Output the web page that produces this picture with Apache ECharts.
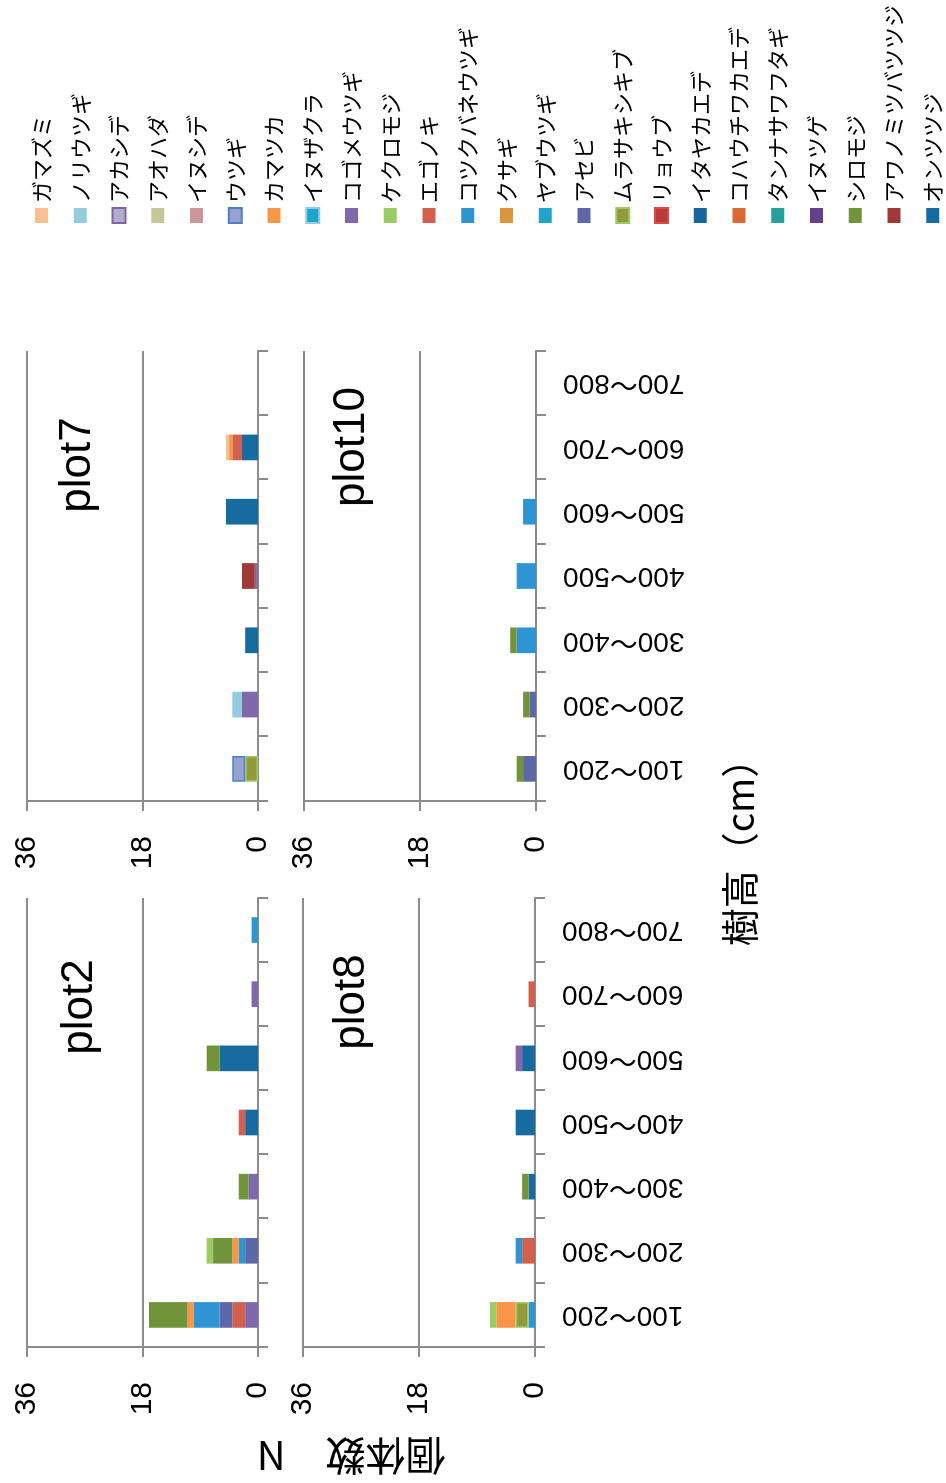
<!DOCTYPE html>
<html>
<head>
<meta charset="utf-8">
<script src="https://cdn.jsdelivr.net/npm/echarts@6/dist/echarts.min.js"></script>
<style>
html,body{margin:0;padding:0;background:#fff;overflow:hidden;width:946px;height:1483px;}
#c{position:absolute;left:0;top:0;width:1483px;height:946px;transform-origin:0 0;transform:translate(0,1483px) rotate(-90deg);}
</style>
</head>
<body>
<div id="c"></div>
<script>
// ---- data ----
const categories = ['100～200','200～300','300～400','400～500','500～600','600～700','700～800'];
const plotNames = ['plot2','plot7','plot8','plot10'];
const valueMin = 0, valueMax = 36, valueStep = 18;

const legendNames = ['ガマズミ','ノリウツギ','アカシデ','アオハダ','イヌシデ','ウツギ','カマツカ','イヌザクラ','コゴメウツギ','ケクロモジ','エゴノキ','コツクバネウツギ','クサギ','ヤブウツギ','アセビ','ムラサキシキブ','リョウブ','イタヤカエデ','コハウチワカエデ','タンナサワフタギ','イヌツゲ','シロモジ','アワノミツバツツジ','オンツツジ'];
const legendColors = ['#FAC090','#93CDDD','#B1AECB','#C4C896','#C9969B','#95A0D3','#F79646','#1AA5CF','#8068AC','#9BCB63','#D2604C','#2E94D2','#D9963C','#22A4CA','#5D68A6','#929B3C','#B83B3B','#17659F','#D96A35','#25A09B','#65408A','#71943B','#A03838','#166BA1'];
const legendBorders = [null,null,'#8064A2',null,null,'#4F81BD',null,'#93CDDD',null,null,null,null,null,null,null,'#9BCB63','#E04848',null,null,null,null,null,null,null];

// stacking order from the base (value 0) upward
const stackOrder = ['オンツツジ','イタヤカエデ','コゴメウツギ','イヌツゲ','エゴノキ','リョウブ','アセビ','コツクバネウツギ','ムラサキシキブ','カマツカ','シロモジ','ケクロモジ','ウツギ','ノリウツギ','アカシデ','アワノミツバツツジ','ガマズミ','アオハダ','イヌシデ','イヌザクラ','クサギ','ヤブウツギ','コハウチワカエデ','タンナサワフタギ'];

const plot2Rows = [
  ['オンツツジ',       0, 0, 0,   2, 6, 0, 0],
  ['コゴメウツギ',     2, 0, 1.5, 0, 0, 1, 0],
  ['エゴノキ',         2, 0, 0,   1, 0, 0, 0],
  ['アセビ',           2, 2, 0,   0, 0, 0, 0],
  ['コツクバネウツギ', 4, 1, 0,   0, 0, 0, 1],
  ['カマツカ',         1, 1, 0,   0, 0, 0, 0],
  ['シロモジ',         6, 3, 1.5, 0, 2, 0, 0],
  ['ケクロモジ',       0, 1, 0,   0, 0, 0, 0]
];
const plot7Rows = [
  ['オンツツジ',         0, 0,   2, 0,   5, 2.5, 0],
  ['コゴメウツギ',       0, 2.5, 0, 0,   0, 0,   0],
  ['エゴノキ',           0, 0,   0, 0,   0, 1.5, 0],
  ['ムラサキシキブ',     2, 0,   0, 0,   0, 0,   0],
  ['カマツカ',           0, 0,   0, 0,   0, 0.5, 0],
  ['ウツギ',             2, 0,   0, 0,   0, 0,   0],
  ['ノリウツギ',         0, 1.5, 0, 0,   0, 0,   0],
  ['アカシデ',           0, 0,   0, 0.5, 0, 0,   0],
  ['アワノミツバツツジ', 0, 0,   0, 2,   0, 0,   0],
  ['ガマズミ',           0, 0,   0, 0,   0, 0.5, 0]
];
const plot8Rows = [
  ['オンツツジ',       0, 0, 1, 3, 2, 0, 0],
  ['コゴメウツギ',     0, 0, 0, 0, 1, 0, 0],
  ['エゴノキ',         0, 2, 0, 0, 0, 1, 0],
  ['コツクバネウツギ', 1, 1, 0, 0, 0, 0, 0],
  ['ムラサキシキブ',   2, 0, 0, 0, 0, 0, 0],
  ['カマツカ',         3, 0, 0, 0, 0, 0, 0],
  ['シロモジ',         0, 0, 1, 0, 0, 0, 0],
  ['ケクロモジ',       1, 0, 0, 0, 0, 0, 0]
];
const plot10Rows = [
  ['アセビ',           2, 1, 0, 0, 0, 0, 0],
  ['コツクバネウツギ', 0, 0, 3, 3, 2, 0, 0],
  ['シロモジ',         1, 1, 1, 0, 0, 0, 0]
];
const plotRows = [plot2Rows, plot7Rows, plot8Rows, plot10Rows];

// ---- layout / style ----
const NUM_FONT = "'Liberation Sans', Arial, 'Noto Sans CJK JP', sans-serif";
const JP_FONT = "'Noto Sans CJK JP', sans-serif";
const LINE = '#8c8c8c';
const grids = [
  {left:136, top:27,  width:449, height:231},
  {left:682, top:27,  width:450, height:231},
  {left:136, top:303, width:449, height:232},
  {left:682, top:304, width:450, height:232}
];
const titlePos = [[476,80],[1018,78],[481,352],[1036,352]];

function styleOf(name){
  const k = legendNames.indexOf(name);
  const s = {color: legendColors[k]};
  if (legendBorders[k]) { s.borderColor = legendBorders[k]; s.borderWidth = 1.5; }
  return s;
}

const series = [];
const used = new Set();
plotRows.forEach((rows, gi) => {
  stackOrder.forEach(name => {
    const row = rows.find(r => r[0] === name);
    if (!row) return;
    used.add(name);
    series.push({
      type:'bar', name, stack:'s'+gi, xAxisIndex:gi, yAxisIndex:gi,
      barWidth:'40%', itemStyle: styleOf(name),
      data: row.slice(1).map(v => v === 0 ? null : v)
    });
  });
});
legendNames.forEach(name => {
  if (!used.has(name)) {
    series.push({type:'bar', name, stack:'s0', xAxisIndex:0, yAxisIndex:0, barWidth:'40%', itemStyle: styleOf(name), data: []});
  }
});

const chart = echarts.init(document.getElementById('c'), null, {width:1483, height:946, renderer:'canvas'});
chart.setOption({
  animation:false,
  backgroundColor:'#ffffff',
  grid: grids,
  legend: {
    orient:'vertical', left:1259, top:30.5, padding:0, itemWidth:15, itemHeight:13, itemGap:16.75,
    icon:'rect', data: legendNames, selectedMode:false,
    textStyle:{fontSize:22, lineHeight:22, color:'#000', fontFamily:JP_FONT}
  },
  xAxis: grids.map((g,i) => ({
    type:'category', gridIndex:i, data:categories, boundaryGap:true,
    axisLine:{show:true, lineStyle:{color:LINE, width:2}},
    axisTick:{show:true, inside:false, length:10, interval:0, lineStyle:{color:LINE, width:2}},
    axisLabel:{show: i >= 2, interval:0, rotate:90, margin:27, fontSize:28, color:'#000', fontFamily:NUM_FONT},
    splitLine:{show:false}
  })),
  yAxis: grids.map((g,i) => ({
    type:'value', gridIndex:i, min:valueMin, max:valueMax, interval:valueStep,
    axisLine:{show:true, lineStyle:{color:LINE, width:2}},
    axisTick:{show:true, inside:false, length:10, lineStyle:{color:LINE, width:2}},
    axisLabel:{margin:35, fontSize:30, color:'#000', fontFamily:NUM_FONT},
    splitLine:{show:true, lineStyle:{color:LINE, width:2}}
  })),
  series,
  graphic: plotNames.map((t,i) => ({
    type:'text', x:titlePos[i][0], y:titlePos[i][1],
    style:{text:t, font:'44px ' + NUM_FONT, fill:'#000', textAlign:'center', textVerticalAlign:'middle'}
  })).concat([
    {type:'text', x:640, y:740, style:{text:'樹高（cm）', font:'38px ' + JP_FONT, fill:'#000', textAlign:'center', textVerticalAlign:'middle'}},
    {type:'text', x:27, y:351, rotation:Math.PI/2, style:{text:'個体数　N', font:'40px ' + JP_FONT, fill:'#000', textAlign:'center', textVerticalAlign:'middle'}}
  ])
});
</script>
</body>
</html>
